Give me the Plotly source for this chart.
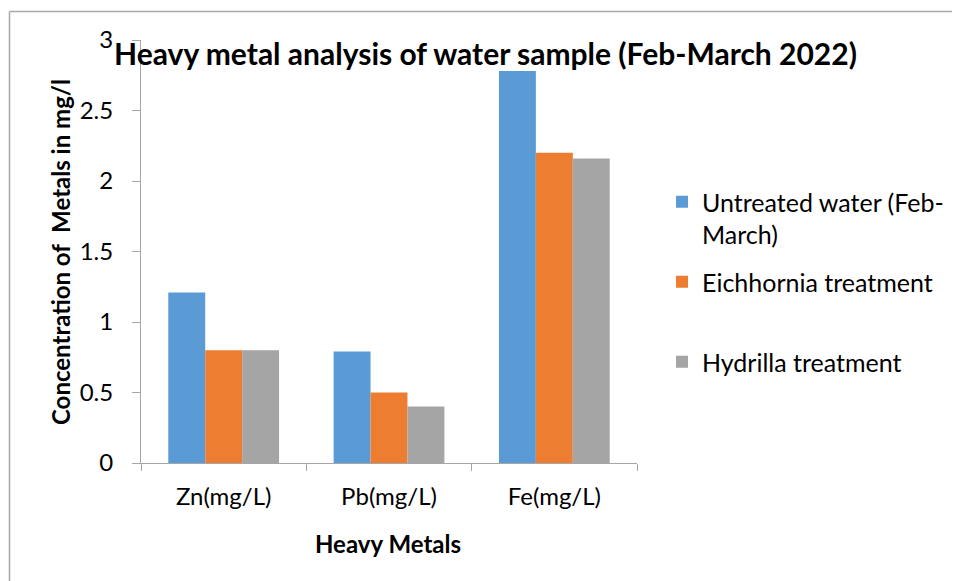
import plotly.graph_objects as go

categories = ["Zn(mg/L)", "Pb(mg/L)", "Fe(mg/L)"]
series_names = ["Untreated water (Feb-<br>March)", "Eichhornia treatment<br> ", "Hydrilla treatment"]
untreated = [1.21, 0.79, 2.78]
eichhornia = [0.80, 0.50, 2.20]
hydrilla = [0.80, 0.40, 2.16]
colors = ["#5B9BD5", "#ED7D31", "#A5A5A5"]
y_ticks = [0, 0.5, 1, 1.5, 2, 2.5, 3]
y_tick_labels = ["0", "0.5", "1", "1.5", "2", "2.5", "3"]

FONT = "Lato, 'Open Sans', sans-serif"
OFF = 8  # page body margin offset

fig = go.Figure()
for i, (name, vals) in enumerate(zip(series_names, [untreated, eichhornia, hydrilla])):
    fig.add_trace(go.Bar(
        x=categories, y=vals, name=name, marker=dict(color=colors[i], line=dict(width=0)),
        legendgroup=f"g{i}",
    ))

W, H = 960, 581
L, R, T, B = 141 - OFF, 637 - OFF, 40 - OFF, 463 - OFF

def px(x):  # page pixel -> paper
    return (x - OFF - L) / (R - L)

def py(y):
    return (B - (y - OFF)) / (B - T)

fig.update_layout(
    width=W, height=H,
    margin=dict(l=L, r=W - R, t=T, b=H - B, pad=0),
    paper_bgcolor="white", plot_bgcolor="white",
    barmode="group", bargap=0.33, bargroupgap=0,
    font=dict(family=FONT, color="#000000", size=24),
    showlegend=True,
    legend=dict(
        x=px(662), y=py(179), xanchor="left", yanchor="top",
        font=dict(size=25, family=FONT, color="#000"),
        traceorder="grouped", tracegroupgap=12, valign="top",
        bgcolor="rgba(0,0,0,0)", itemwidth=30,
    ),
    xaxis=dict(
        showline=True, linecolor="#A6A6A6", linewidth=1,
        ticks="outside", ticklen=7, tickcolor="#A6A6A6",
        tickson="boundaries", showgrid=False,
        tickfont=dict(size=24), ticklabelstandoff=12,
    ),
    yaxis=dict(
        range=[0, 3], tickvals=y_ticks, ticktext=y_tick_labels,
        showline=True, linecolor="#A6A6A6", linewidth=1,
        ticks="outside", ticklen=8, tickcolor="#A6A6A6",
        showgrid=False, zeroline=False,
        tickfont=dict(size=24), ticklabelstandoff=14,
    ),
    annotations=[
        dict(text="<b>Heavy metal analysis of water sample (Feb-March 2022)</b>",
             xref="paper", yref="paper", x=px(485), y=py(53),
             xanchor="center", yanchor="middle", showarrow=False,
             font=dict(size=30, family=FONT, color="#000")),
        dict(text="<b>Concentration of  Metals in mg/l</b>",
             xref="paper", yref="paper", x=px(60), y=py(252), textangle=-90,
             xanchor="center", yanchor="middle", showarrow=False,
             font=dict(size=24, family=FONT, color="#000")),
        dict(text="<b>Heavy Metals</b>",
             xref="paper", yref="paper", x=px(388), y=py(543),
             xanchor="center", yanchor="middle", showarrow=False,
             font=dict(size=24, family=FONT, color="#000")),
    ],
    shapes=[
        dict(type="line", xref="paper", yref="paper", x0=px(0), x1=px(968), y0=py(7), y1=py(7),
             line=dict(color="#A0A0A0", width=2)),
        dict(type="line", xref="paper", yref="paper", x0=px(9.5), x1=px(968), y0=py(11.5), y1=py(11.5),
             line=dict(color="#A8A8A8", width=1.5)),
        dict(type="line", xref="paper", yref="paper", x0=px(9.5), x1=px(9.5), y0=py(11.5), y1=py(600),
             line=dict(color="#A8A8A8", width=1.5)),
    ],
)

fig.write_html("out.html")
